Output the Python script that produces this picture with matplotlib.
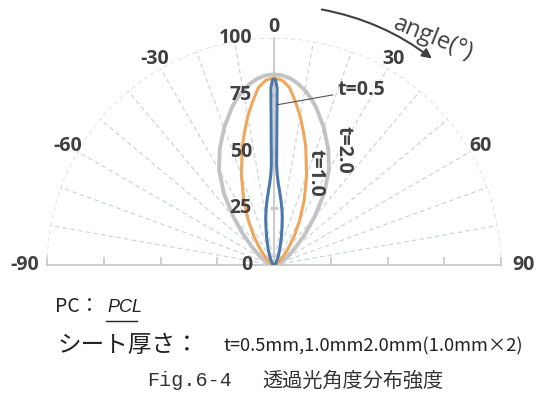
import numpy as np
import matplotlib.pyplot as plt
from matplotlib.lines import Line2D

# Transmitted light intensity vs. emission angle (one half, 0..90 deg).
# The distributions are symmetric, so the negative side is mirrored.
angle_t20 = [0, 2.5, 5, 7.5, 10, 12.5, 15, 20, 25, 30, 35, 40, 45, 50, 55, 60, 70, 80, 90]
t20_half = [84, 83.6, 82.5, 80.6, 78.2, 75.2, 71.8, 64.3, 56.5, 48.5, 38.5, 28, 19.5, 13, 9, 6.5, 3, 1, 0]

angle_t10 = [0, 2.5, 5, 7.5, 10, 12.5, 15, 20, 25, 30, 35, 40, 45, 50, 55, 60, 70, 80, 90]
t10_half = [82.5, 81.5, 78.5, 72.5, 66.5, 60, 54, 42, 31.5, 22.5, 15.5, 10, 6.5, 4, 2.5, 1.5, 0.5, 0.2, 0]

angle_t05 = [0, 0.5, 1, 1.5, 2, 3, 4, 5, 6, 8, 10, 12, 15, 20, 25, 30, 40, 50, 60, 75, 90]
t05_half = [82, 81.5, 78, 44, 40, 36, 33.5, 31, 29, 25, 21, 17, 12.5, 7.5, 4.5, 3, 1.5, 0.8, 0.4, 0.1, 0]

r_ticks = [0, 25, 50, 75, 100]
theta_labels = [-90, -60, -30, 0, 30, 60, 90]

c_t05 = '#4a78ab'
c_t10 = '#f0a75a'
c_t20 = '#c3c3c3'
c_grid = '#c9cfe0'
c_axis = '#c8c8c8'
c_text = '#404040'
lab_font = dict(family='Open Sans', weight='bold', size=14, color=c_text, zorder=6)


def mirror(angles, values):
    a = np.asarray(angles, float)
    v = np.asarray(values, float)
    return np.radians(np.concatenate([-a[:0:-1], a])), np.concatenate([v[:0:-1], v])


fig = plt.figure(figsize=(5.36, 3.99), dpi=100)
W, H = 536, 399
cx, cy, R = 274, 265, 227
# the half disc is centred inside a square axes box, so size the box as 2R x 2R
ax = fig.add_axes([(cx - R) / W, (H - cy - 0.5 * R) / H, 2 * R / W, 2 * R / H],
                  projection='polar')
ax.set_theta_zero_location('N')
ax.set_theta_direction(-1)
ax.set_thetamin(-90)
ax.set_thetamax(90)
ax.set_rlim(0, 100)
ax.set_axis_off()

# dashed spokes every 10 degrees and the outer 100 arc
for deg in range(-80, 90, 10):
    if deg == 0:
        continue
    th = np.radians(deg)
    ax.plot([th, th], [0, 100], color=c_grid, lw=0.8, ls=(0, (4, 3)), zorder=0)
arc = np.linspace(-np.pi / 2, np.pi / 2, 300)
ax.plot(arc, np.full_like(arc, 100), color=c_grid, lw=0.8, ls=(0, (4, 3)), zorder=0)

# solid axes: baseline and vertical 0 line, with small ticks
for th in (-np.pi / 2, 0, np.pi / 2):
    ax.plot([th, th], [0, 100], color=c_axis, lw=1.3, zorder=1, clip_on=False)
ax.plot([-np.pi / 2] * 4 + [np.pi / 2] * 4, [25, 50, 75, 100] * 2, ls='none',
        marker=2, ms=6, mew=1.2, color=c_axis, clip_on=False)
ax.plot([0] * 3, [25, 50, 75], ls='none', marker='_', ms=6, mew=1.0, color=c_axis)

# curves
th, r = mirror(angle_t20, t20_half)
ax.plot(th, r, color=c_t20, lw=2.8, zorder=3)
th, r = mirror(angle_t10, t10_half)
ax.plot(th, r, color=c_t10, lw=2.2, zorder=4)
th, r = mirror(angle_t05, t05_half)
ax.plot(th, r, color=c_t05, lw=2.2, zorder=5)

# radial labels left of the vertical axis
for rv in r_ticks:
    ax.annotate(str(rv), xy=(0, rv), xytext=(-22, 0), textcoords='offset pixels',
                ha='right', va='center', annotation_clip=False, **lab_font)

# angle labels around the arc
for deg in theta_labels:
    rr = 110 if abs(deg) == 90 else 105
    ax.text(np.radians(deg), rr, str(deg), ha='center', va='center',
            clip_on=False, **lab_font)

# curve labels
ax.annotate('t=0.5', xy=(np.radians(0.8), 70.5), xytext=(np.radians(19.8), 82),
            ha='left', va='center', annotation_clip=False,
            arrowprops=dict(arrowstyle='-', color='#555555', lw=0.8, shrinkA=1, shrinkB=0),
            **lab_font)
ax.text(np.radians(31), 59.4, 't=2.0', rotation=-90, ha='center', va='center', **lab_font)
ax.text(np.radians(24.1), 44.4, 't=1.0', rotation=-90, ha='center', va='center', **lab_font)

# direction of the angle
ax.annotate('', xy=(np.radians(37.4), 114.5), xytext=(np.radians(10.6), 114.5),
            annotation_clip=False,
            arrowprops=dict(arrowstyle='-|>', color='#404040', lw=1.5, mutation_scale=14,
                            shrinkA=0, shrinkB=0, connectionstyle='arc3,rad=-0.12'))
ax.text(np.radians(35), 122, 'angle(°)', rotation=-22, ha='center', va='center',
        family='Open Sans', size=17, color='#404040', clip_on=False)

# caption block
jp = ['Noto Sans CJK JP', 'DejaVu Sans']
fig.text(55 / W, 1 - 307 / H, 'PC：', size=14, family=jp, color='#222222', va='center')
fig.text(107 / W, 1 - 307 / H, 'PCL', size=13, style='italic', family='Liberation Sans',
         color='#222222', va='center')
fig.add_artist(Line2D([106 / W, 137 / W], [1 - 321 / H, 1 - 321 / H], color='#222222', lw=1.0))
fig.text(57 / W, 1 - 346 / H, 'シート厚さ：', size=17, family=jp, color='#222222', va='center')
fig.text(224 / W, 1 - 346 / H, 't=0.5mm,1.0mm2.0mm(1.0mm×2)', size=13.2, family=jp,
         color='#222222', va='center')
fig.text(147 / W, 1 - 381 / H, 'Fig.6-4', size=14.5, family='Liberation Mono',
         color='#333333', va='center')
fig.text(262 / W, 1 - 381 / H, '透過光角度分布強度', size=14.5, family=jp,
         color='#333333', va='center')

fig.savefig('out.png', dpi=100)
